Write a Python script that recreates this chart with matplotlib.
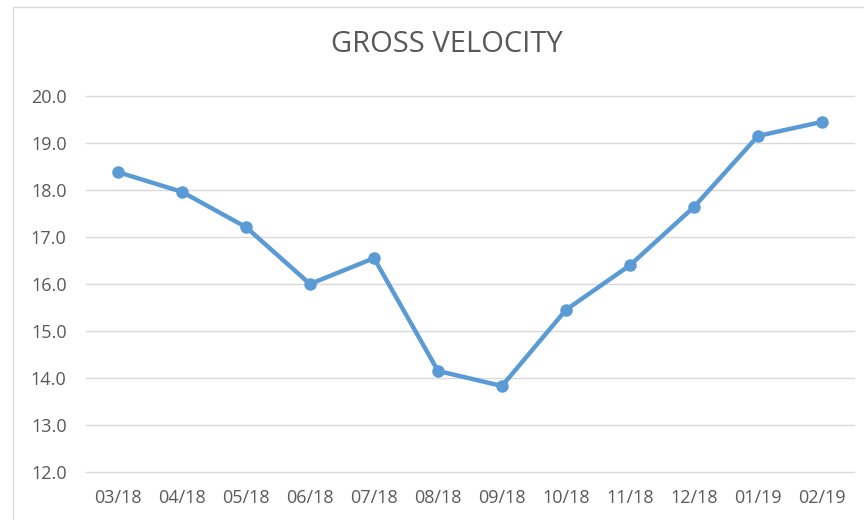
import matplotlib.pyplot as plt
from matplotlib.patches import Rectangle

months = ['03/18', '04/18', '05/18', '06/18', '07/18', '08/18',
          '09/18', '10/18', '11/18', '12/18', '01/19', '02/19']
velocity = [18.38, 17.96, 17.21, 16.0, 16.55, 14.15,
            13.83, 15.45, 16.4, 17.64, 19.15, 19.45]
yticks = [12.0, 13.0, 14.0, 15.0, 16.0, 17.0, 18.0, 19.0, 20.0]

plt.rcParams['font.family'] = ['Open Sans', 'DejaVu Sans']
txt = '#595959'

fig = plt.figure(figsize=(8.64, 5.2), dpi=100)
W, H = 864, 520
# chart area border
fig.patches.append(Rectangle((13 / W, -0.05), 1.0, 1 - 7 / H + 0.05,
                             transform=fig.transFigure, fill=False,
                             edgecolor='#D9D9D9', linewidth=1))

ax = fig.add_axes([86 / W, 1 - 472 / H, (854 - 86) / W, (472 - 96) / H])
x = list(range(len(months)))
ax.plot(x, velocity, color='#5B9BD5', linewidth=3.2, marker='o',
        markersize=8, solid_capstyle='round', zorder=3)

ax.set_xlim(-0.5, len(months) - 0.5)
ax.set_ylim(12, 20)
ax.set_yticks(yticks)
ax.set_yticklabels(['%.1f' % v for v in yticks])
ax.set_xticks(x)
ax.set_xticklabels(months)
for v in yticks:
    ax.axhline(v, color='#D9D9D9', linewidth=1, zorder=1, clip_on=False)
for s in ax.spines.values():
    s.set_visible(False)
ax.tick_params(length=0, labelsize=13, colors=txt, pad=14)
ax.tick_params(axis='x', pad=12)

fig.text(447 / W, 1 - 45 / H, 'GROSS VELOCITY', ha='center', va='center',
         fontsize=21, color=txt)

fig.savefig('out.png', dpi=100)
